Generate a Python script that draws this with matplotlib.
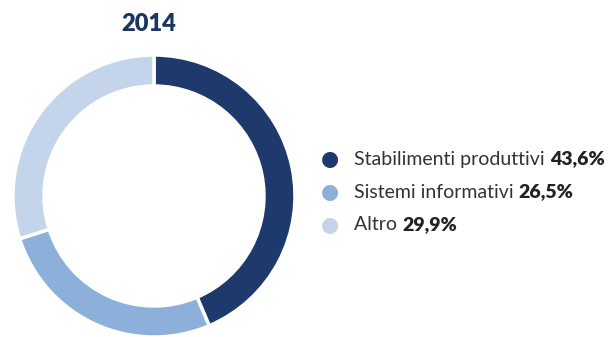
import matplotlib.pyplot as plt

labels = ['Stabilimenti produttivi', 'Sistemi informativi', 'Altro']
values = [43.6, 26.5, 29.9]
colors = ['#1e3a6c', '#8db0da', '#c3d4eb']
title = '2014'

W, H = 615, 337
fig = plt.figure(figsize=(W / 100, H / 100), dpi=100)

# donut, starting at 12 o'clock and running clockwise
cx, cy, r = 154, 196, 141
ax = fig.add_axes([(cx - r) / W, (H - cy - r) / H, 2 * r / W, 2 * r / H])
ax.pie(values, colors=colors, startangle=90, counterclock=False, radius=1,
       wedgeprops=dict(width=0.22, edgecolor='white', linewidth=2.5))
ax.set_xlim(-1.0, 1.0)
ax.set_ylim(-1.0, 1.0)
ax.set_aspect('equal')
ax.axis('off')

fig.text(149 / W, 1 - 24 / H, title, ha='center', va='center', fontsize=17,
         fontweight='heavy', color='#1b365d', family='Lato')

# legend rows
rows_y = [159, 192, 225]
for lab, val, col, y in zip(labels, values, colors, rows_y):
    fig.text(330 / W, 1 - y / H, '\u25cf', ha='center', va='center',
             fontsize=15, color=col, family='DejaVu Sans')
    t = fig.text(354 / W, 1 - y / H, lab + ' ', ha='left', va='center',
                 fontsize=14, color='#333333', family='Lato')
    fig.canvas.draw()
    bb = t.get_window_extent()
    fig.text(bb.x1 / W, 1 - y / H, f'{val:.1f}%'.replace('.', ','),
             ha='left', va='center', fontsize=14, fontweight='heavy',
             color='#222222', family='Lato')

fig.savefig('out.png', dpi=100)
